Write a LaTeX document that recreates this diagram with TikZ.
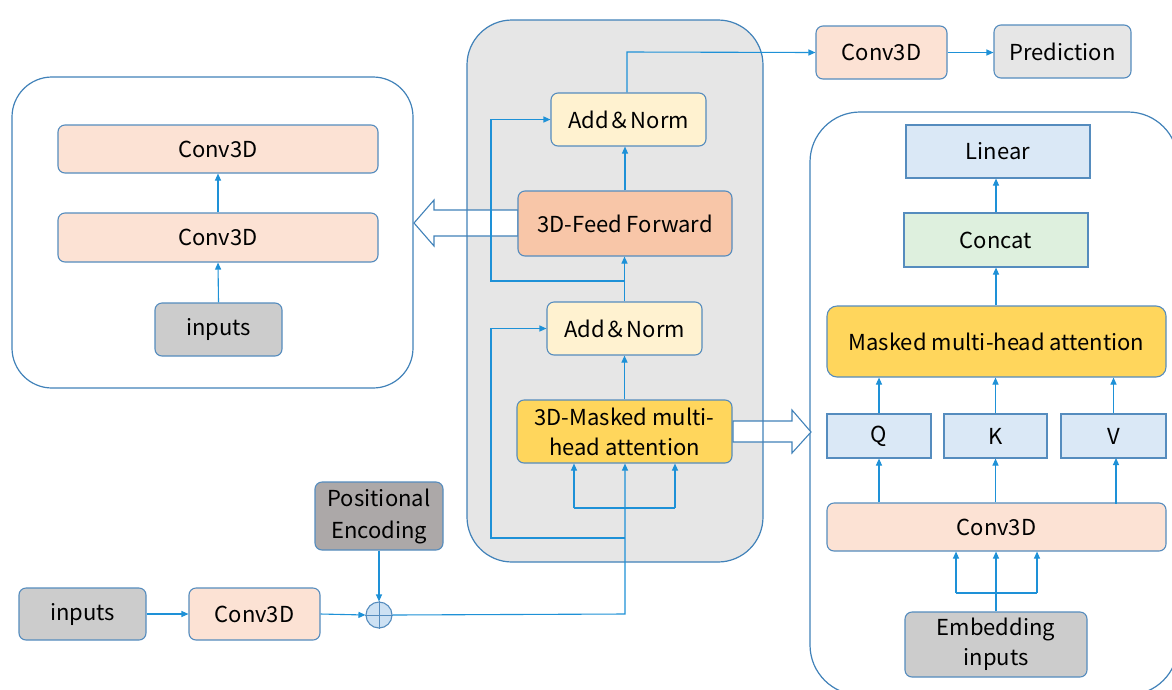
\documentclass[tikz,border=0pt]{standalone}
\usepackage{fontspec}
\setmainfont{Noto Sans CJK SC}
\usetikzlibrary{arrows.meta}
\definecolor{wire}{RGB}{30,145,215}
\definecolor{frame}{RGB}{65,130,185}
\definecolor{edge}{RGB}{85,140,190}
\definecolor{panel}{RGB}{230,230,230}
\definecolor{normc}{RGB}{255,242,208}
\definecolor{ffc}{RGB}{248,198,168}
\definecolor{convc}{RGB}{252,226,212}
\definecolor{attc}{RGB}{255,214,92}
\definecolor{qkvc}{RGB}{218,232,246}
\definecolor{catc}{RGB}{222,240,222}
\definecolor{inpc}{RGB}{204,204,204}
\definecolor{posc}{RGB}{172,168,168}
\definecolor{predc}{RGB}{230,230,230}
\definecolor{plusc}{RGB}{205,225,243}
\tikzset{
  blk/.style={draw=edge, line width=1.1pt, rounded corners=7pt, inner sep=0pt,
    align=center, font=\fontsize{22}{30}\selectfont},
  sqblk/.style={blk, sharp corners},
  arr/.style={draw=wire, line width=1.1pt, -{Triangle[length=7pt,width=6pt]}},
  wireline/.style={draw=wire, line width=1.1pt},
  container/.style={draw=frame, line width=1.2pt},
  hollow/.style={draw=frame, line width=1.1pt, fill=white, line join=miter},
}
\begin{document}
\begin{tikzpicture}[x=1pt, y=-1pt]
\useasboundingbox (0,0) rectangle (1172,689);
\begin{scope}
\clip (0,0) rectangle (1172,689);
\fill[white] (0,0) rectangle (1172,689);

% containers
\path[container, fill=white, rounded corners=40pt] (12,77) rectangle (413,388);
\path[container, fill=white, rounded corners=50pt] (810,112) rectangle (1178,695);
\fill[panel, rounded corners=45pt] (467,20) rectangle (763,562);

% wide hollow arrows out of the encoder panel
\path[hollow] (518,210) -- (434,210) -- (434,200) -- (414,223) -- (434,246)
  -- (434,236) -- (518,236) -- cycle;
\path[hollow] (733,421) -- (792,421) -- (792,410) -- (811,432) -- (792,453)
  -- (792,442) -- (733,442) -- cycle;
\draw[container, rounded corners=45pt] (467,20) rectangle (763,562);

% left panel: feed-forward detail
\node[blk, fill=convc, minimum width=320pt, minimum height=48pt] (lc1) at (218,149) {Conv3D};
\node[blk, fill=convc, minimum width=320pt, minimum height=49pt] (lc2) at (218,237.5) {Conv3D};
\node[blk, fill=inpc, minimum width=127pt, minimum height=53pt] (lin) at (218.5,329.5) {inputs};

% central encoder block
\node[blk, fill=normc, minimum width=155pt, minimum height=53pt] (an1) at (628.5,119.5) {Add＆Norm};
\node[blk, fill=ffc, minimum width=214pt, minimum height=65pt] (ff) at (625,223.5) {3D-Feed Forward};
\node[blk, fill=normc, minimum width=155pt, minimum height=53pt] (an2) at (624.5,328.5) {Add＆Norm};
\node[blk, fill=attc, minimum width=215pt, minimum height=63pt] (mha) at (624.5,431.5) {3D-Masked multi-\\head attention};

% output head
\node[blk, fill=convc, minimum width=131pt, minimum height=53pt] (oc) at (881.5,52.5) {Conv3D};
\node[blk, fill=predc, minimum width=137pt, minimum height=53pt] (pred) at (1062.5,51.5) {Prediction};

% right panel: attention detail
\node[sqblk, fill=qkvc, minimum width=184pt, minimum height=53pt] (lnr) at (998,151.5) {Linear};
\node[sqblk, fill=catc, minimum width=184pt, minimum height=54pt] (cat) at (996,240) {Concat};
\node[blk, fill=attc, minimum width=339pt, minimum height=71pt, rounded corners=10pt] (mmha) at (996.5,341.5) {Masked multi-head attention};
\node[sqblk, fill=qkvc, minimum width=104pt, minimum height=44pt] (q) at (879,436) {Q};
\node[sqblk, fill=qkvc, minimum width=103pt, minimum height=44pt] (k) at (995.5,436) {K};
\node[sqblk, fill=qkvc, minimum width=105pt, minimum height=44pt] (v) at (1113.5,436) {V};
\node[blk, fill=convc, minimum width=339pt, minimum height=48pt] (rconv) at (996.5,527) {Conv3D};
\node[blk, fill=inpc, minimum width=182pt, minimum height=65pt] (emb) at (996,644.5) {Embedding\\inputs};

% input stage
\node[blk, fill=inpc, minimum width=127pt, minimum height=52pt] (bin) at (82.5,614) {inputs};
\node[blk, fill=convc, minimum width=131pt, minimum height=52pt] (bconv) at (254.5,614) {Conv3D};
\node[blk, fill=posc, minimum width=128pt, minimum height=68pt, font=\fontsize{22}{32}\selectfont] (pe) at (379,516) {Positional\\Encoding};
\node[circle, draw=edge, line width=1.1pt, fill=plusc, minimum size=26pt, inner sep=0pt] (plus) at (379,615) {};
\draw[edge, line width=1pt] (plus.north) -- (plus.south) (plus.west) -- (plus.east);

% connectors
\coordinate (split) at (625,614);
\coordinate (fanl) at (574,508);
\coordinate (fanr) at (675,508);
\coordinate (res1) at (491,538);
\coordinate (res2) at (491,281);
\coordinate (top) at (627,52);
\coordinate (efl) at (956,593);
\coordinate (efr) at (1037,593);

\draw[arr] (bin.east) -- (bconv.west);
\draw[arr] (bconv.east) -- (plus.west);
\draw[arr] (pe.south) -- (plus.north);
\draw[arr] (plus.east) -- (split) -- (split |- mha.south);
\draw[wireline] (fanl) -- (fanr);
\draw[arr] (fanl) -- (fanl |- mha.south);
\draw[arr] (fanr) -- (fanr |- mha.south);
\draw[arr] (split |- res1) -- (res1) |- (an2.west);
\draw[arr] (mha.north) -- (mha.north |- an2.south);
\draw[arr] (an2.north) -- (an2.north |- ff.south);
\draw[arr] (ff.south |- res2) -- (res2) |- (an1.west);
\draw[arr] (ff.north) -- (ff.north |- an1.south);
\draw[arr] (an1.north -| top) -- (top) -- (oc.west);
\draw[arr] (oc.east) -- (pred.west |- oc.east);

\draw[arr] (lin.north) -- (lc2.south);
\draw[arr] (lc2.north) -- (lc1.south);

\draw[arr] (emb.north) -- (emb.north |- rconv.south);
\draw[wireline] (efl) -- (efr);
\draw[arr] (efl) -- (efl |- rconv.south);
\draw[arr] (efr) -- (efr |- rconv.south);
\draw[arr] (q.south |- rconv.north) -- (q.south);
\draw[arr] (k.south |- rconv.north) -- (k.south);
\draw[arr] (1116,503.5) -- (1116,458);
\draw[arr] (q.north) -- (q.north |- mmha.south);
\draw[arr] (k.north) -- (k.north |- mmha.south);
\draw[arr] (v.north) -- (v.north |- mmha.south);
\draw[arr] (mmha.north -| cat.south) -- (cat.south);
\draw[arr] (cat.north) -- (cat.north |- lnr.south);
\end{scope}
\end{tikzpicture}
\end{document}
